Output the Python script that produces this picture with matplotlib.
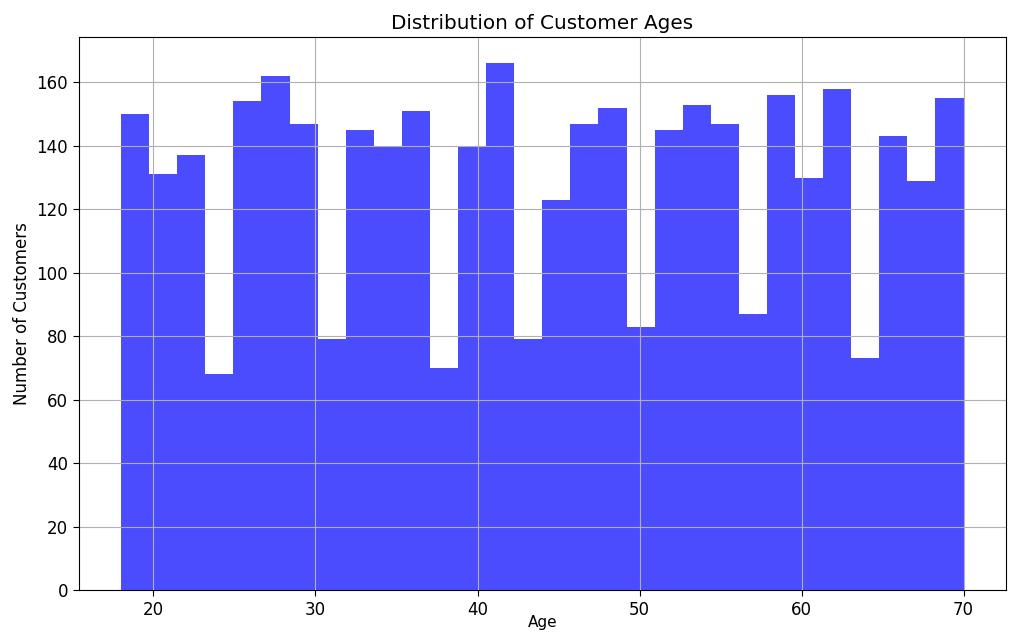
import numpy as np
import matplotlib
matplotlib.use("Agg")
import matplotlib.pyplot as plt

# histogram of customer ages: 30 bins between 18 and 70
age_min = 18
age_max = 70
n_bins = 30
bin_counts = [150, 131, 137, 68, 154, 162, 147, 79, 145, 140,
              151, 70, 140, 166, 79, 123, 147, 152, 83, 145,
              153, 147, 87, 156, 130, 158, 73, 143, 129, 155]

# the reference looks like a slightly upscaled render
plt.rcParams['font.size'] = 12
plt.rcParams['xtick.major.size'] = 4.3
plt.rcParams['ytick.major.size'] = 4.3

edges = np.linspace(age_min, age_max, n_bins + 1)
centers = (edges[:-1] + edges[1:]) / 2

fig = plt.figure(figsize=(10.24, 6.34), dpi=100)
ax = fig.add_axes([0.0771, 0.0694, 0.905, 0.8722])
ax.hist(centers, bins=edges, weights=bin_counts, color='blue', alpha=0.7)
ax.set_title('Distribution of Customer Ages')
# reference crops this label at the bottom edge; pull it up so it stays readable
ax.set_xlabel('Age', labelpad=-3, fontsize=11)
ax.set_ylabel('Number of Customers')
ax.grid(True)

fig.savefig('out.png', dpi=100)
